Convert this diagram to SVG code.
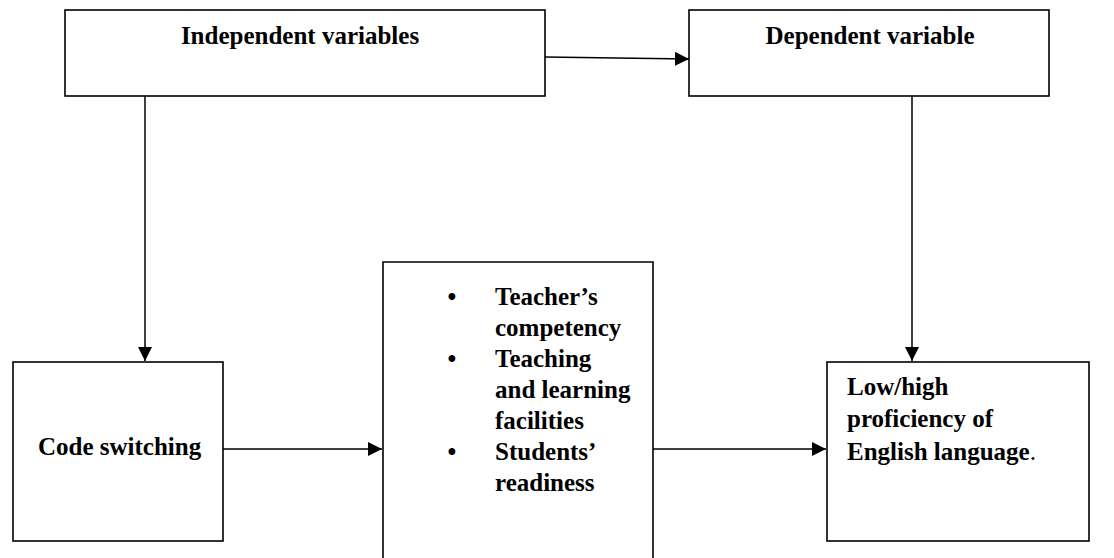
<svg xmlns="http://www.w3.org/2000/svg" width="1114" height="558" viewBox="0 0 1114 558">
<style>
.box{fill:#fff;stroke:#000;stroke-width:1.6}
.t{font-family:"Liberation Serif","Times New Roman",serif;font-weight:bold;font-size:25px;fill:#000}
.c{fill:none;stroke:#000;stroke-width:1.5}
</style>
<defs>
<marker id="ah" markerUnits="userSpaceOnUse" markerWidth="14" markerHeight="14" refX="14" refY="7" orient="auto" viewBox="0 0 14 14">
<path d="M0,0 L14,7 L0,14 z" fill="#000"/>
</marker>
</defs>
<rect width="1114" height="558" fill="#fff"/>
<g id="independent">
<rect class="box" x="65" y="10" width="480" height="86"/>
<text class="t" x="300" y="44" text-anchor="middle">Independent variables</text>
</g>
<g id="dependent">
<rect class="box" x="689" y="10" width="360" height="86"/>
<text class="t" x="870" y="44" text-anchor="middle">Dependent variable</text>
</g>
<g id="code">
<rect class="box" x="13" y="362" width="210" height="179"/>
<text class="t" x="38" y="455">Code switching</text>
</g>
<g id="factors">
<path class="box" d="M383,559 V262 H653 V559"/>
<text class="t" x="452" y="305" text-anchor="middle">•</text>
<text class="t" x="495" y="305">Teacher’s</text>
<text class="t" x="495" y="336">competency</text>
<text class="t" x="452" y="367" text-anchor="middle">•</text>
<text class="t" x="495" y="367">Teaching</text>
<text class="t" x="495" y="398">and learning</text>
<text class="t" x="495" y="429">facilities</text>
<text class="t" x="452" y="460" text-anchor="middle">•</text>
<text class="t" x="495" y="460">Students’</text>
<text class="t" x="495" y="491">readiness</text>
</g>
<g id="proficiency">
<rect class="box" x="827" y="362" width="262" height="179"/>
<text class="t" x="847" y="395">Low/high</text>
<text class="t" x="847" y="427">proficiency of</text>
<text class="t" x="847" y="460">English language<tspan font-weight="normal">.</tspan></text>
</g>
<g id="connectors">
<path class="c" d="M545,57 L689,59" marker-end="url(#ah)"/>
<path class="c" d="M145,96 V361" marker-end="url(#ah)"/>
<path class="c" d="M912,96 V361" marker-end="url(#ah)"/>
<path class="c" d="M223,449 H382" marker-end="url(#ah)"/>
<path class="c" d="M653,449 H826" marker-end="url(#ah)"/>
</g>
</svg>
